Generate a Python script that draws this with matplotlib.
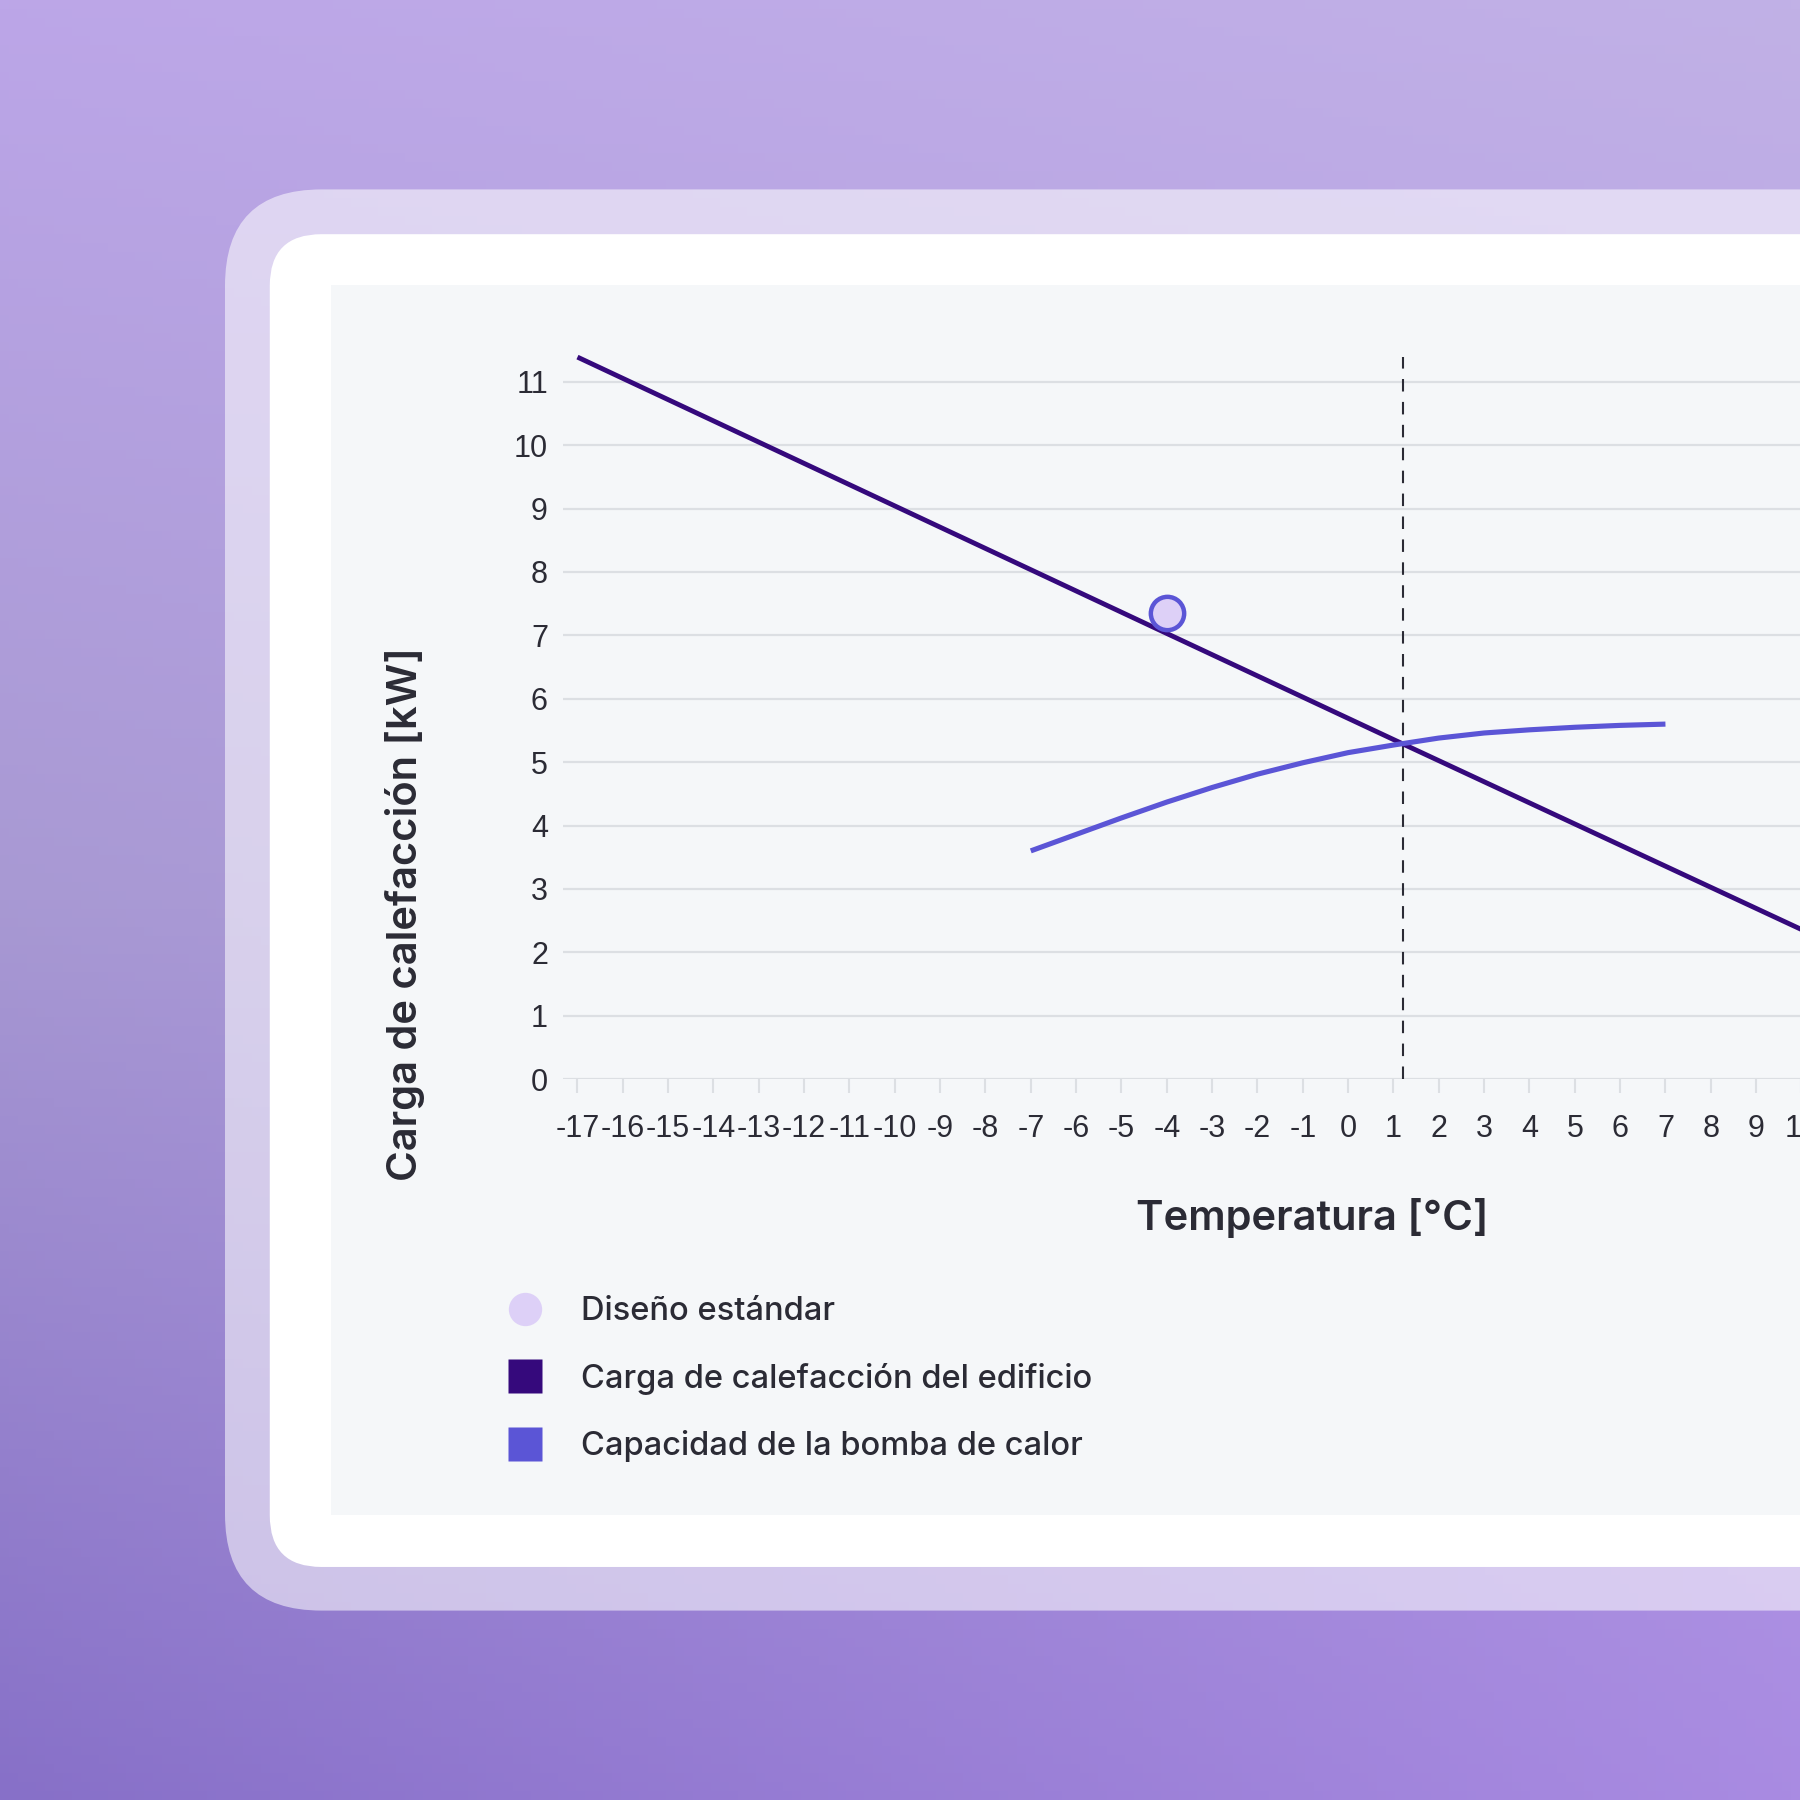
import matplotlib.pyplot as plt
import numpy as np
from matplotlib import ticker
from matplotlib.colors import to_rgb
from matplotlib.lines import Line2D
from matplotlib.patches import FancyBboxPatch, Rectangle

# Data
load_temps = [-17, -4, 1.2, 10, 12]
load_kw = [11.39, 7.03, 5.29, 2.36, 1.69]

pump_temps = [-7, -6, -5, -4, -3, -2, -1, 0, 1, 2, 3, 4, 5, 6, 7]
pump_kw = [3.60, 3.86, 4.12, 4.37, 4.60, 4.81, 4.99, 5.15, 5.27, 5.38, 5.46, 5.51, 5.55, 5.58, 5.60]

design_temp = [-4]
design_kw = [7.36]

bivalent_temp = 1.2

x_ticks = list(range(-17, 11))
y_ticks = list(range(0, 12))

LOAD_COLOR = "#35097c"
PUMP_COLOR = "#5b55d6"
DESIGN_FILL = "#ddd0f7"
TEXT_COLOR = "#2b2b35"
GRID_COLOR = "#dcdfe3"
PANEL_COLOR = "#f5f7f9"

REF = 1568.0  # reference pixel grid used for layout


def fx(px):
    return px / REF


def fy(py):
    return 1 - py / REF


fig = plt.figure(figsize=(18, 18), dpi=100)

# Background gradient (corner colours)
bg = fig.add_axes([0, 0, 1, 1], zorder=0)
tl, tr = np.array(to_rgb("#bca6e8")), np.array(to_rgb("#c1b1e6"))
ml = np.array(to_rgb("#a899d3"))
bl, br = np.array(to_rgb("#8770c8")), np.array(to_rgb("#a98be2"))
n = 200
u = np.linspace(0, 1, n)[None, :, None]
v = np.linspace(0, 1, n)[:, None, None]
top = tl * (1 - u) + tr * u
bottom = bl * (1 - u) + br * u
mid = ml * (1 - u) + ((tr + br) / 2) * u
grad = np.where(v < 0.5, top * (1 - 2 * v) + mid * 2 * v, mid * (2 - 2 * v) + bottom * (2 * v - 1))
bg.imshow(np.clip(grad, 0, 1), extent=[0, 1, 0, 1], aspect="auto", origin="upper")
bg.axis("off")

# Card frames
outer = FancyBboxPatch(
    (fx(196), fy(1403)), 1.0, fy(165) - fy(1403),
    boxstyle=f"round,pad=0,rounding_size={fx(84)}",
    transform=fig.transFigure, facecolor="white", alpha=0.55, edgecolor="none", zorder=1,
)
inner = FancyBboxPatch(
    (fx(235), fy(1365)), 1.0, fy(204) - fy(1365),
    boxstyle=f"round,pad=0,rounding_size={fx(45)}",
    transform=fig.transFigure, facecolor="white", edgecolor="none", zorder=2,
)
panel = Rectangle(
    (fx(288), fy(1320)), 1.0, fy(248) - fy(1320),
    transform=fig.transFigure, facecolor=PANEL_COLOR, edgecolor="none", zorder=3,
)
for p in (outer, inner, panel):
    fig.patches.append(p)

# Chart axes
ax = fig.add_axes([fx(490), fy(940), fx(1589) - fx(490), fy(305) - fy(940)], zorder=5)
ax.set_facecolor("none")
ax.set_xlim(-17.33, 10.5)
ax.set_ylim(0, 11.5)

ax.set_yticks(y_ticks)
ax.set_xticks(x_ticks)
# plain hyphen instead of the unicode minus, as in the reference
ax.xaxis.set_major_formatter(ticker.FuncFormatter(lambda x, _: f"{int(round(x))}"))
ax.grid(axis="y", color=GRID_COLOR, linewidth=1.6, zorder=0)
for s in ax.spines.values():
    s.set_visible(False)
ax.tick_params(axis="y", left=False, pad=7, labelsize=22, labelcolor=TEXT_COLOR)
ax.tick_params(axis="x", length=10, width=1.5, color=GRID_COLOR, pad=15,
               labelsize=22, labelcolor=TEXT_COLOR)
for lbl in ax.get_xticklabels() + ax.get_yticklabels():
    lbl.set_fontfamily("Liberation Sans")

ax.plot(load_temps, load_kw, color=LOAD_COLOR, linewidth=3.5, solid_capstyle="butt", zorder=3)
ax.plot(pump_temps, pump_kw, color=PUMP_COLOR, linewidth=3.7, solid_capstyle="butt",
        solid_joinstyle="round", zorder=3)
ax.plot([bivalent_temp, bivalent_temp], [0, 11.39], color=TEXT_COLOR, linewidth=1.5,
        linestyle=(0, (6, 5)), zorder=2)
ax.plot(design_temp, design_kw, marker="o", linestyle="", markersize=24,
        markerfacecolor=DESIGN_FILL, markeredgecolor=PUMP_COLOR, markeredgewidth=3.2, zorder=4)

# Axis titles
fig.text(fx(1143), fy(1061), "Temperatura [°C]", ha="center", va="center",
         fontsize=30, fontfamily="Inter", fontweight="semibold", color=TEXT_COLOR, zorder=6)
fig.text(fx(353), fy(796), "Carga de calefacción [kW]", ha="center", va="center", rotation=90,
         fontsize=30, fontfamily="Inter", fontweight="semibold", color=TEXT_COLOR, zorder=6)

# Legend
handles = [
    Line2D([0], [0], marker="o", linestyle="", markersize=24,
           markerfacecolor=DESIGN_FILL, markeredgecolor="none", label="Diseño estándar"),
    Line2D([0], [0], marker="s", linestyle="", markersize=25,
           markerfacecolor=LOAD_COLOR, markeredgecolor="none", label="Carga de calefacción del edificio"),
    Line2D([0], [0], marker="s", linestyle="", markersize=25,
           markerfacecolor=PUMP_COLOR, markeredgecolor="none", label="Capacidad de la bomba de calor"),
]
leg = fig.legend(
    handles=handles,
    loc="upper left",
    bbox_to_anchor=(fx(436), fy(1129)),
    bbox_transform=fig.transFigure,
    frameon=False,
    borderpad=0,
    borderaxespad=0,
    handlelength=1.5,
    handletextpad=0.96,
    labelspacing=1.09,
    prop={"family": "Inter", "weight": "medium", "size": 23.5},
    labelcolor=TEXT_COLOR,
)
leg.set_zorder(6)

fig.savefig("out.png", dpi=100)
